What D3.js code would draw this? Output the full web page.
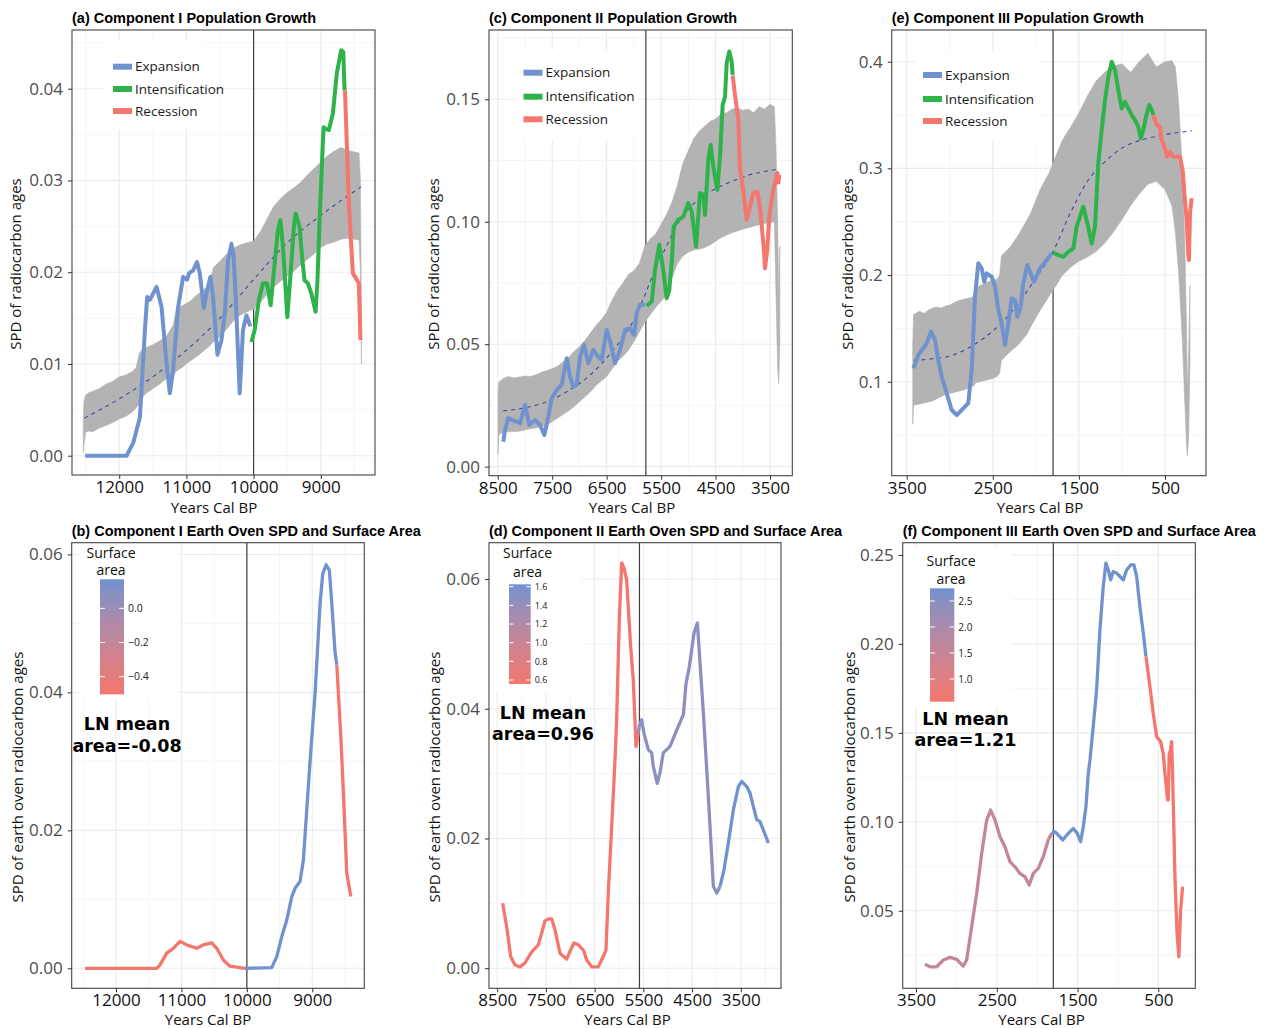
<!DOCTYPE html>
<html><head><meta charset="utf-8">
<script src="https://cdn.jsdelivr.net/npm/d3@7"></script>
<style>body{margin:0;background:#fff}</style>
</head><body>
<svg id="chart" width="1268" height="1028"></svg>
<script>
// ---------------- DATA ----------------
// Panel (a) Component I Population Growth  [year BP, SPD]
const aExpansion = [[12508,0],[12300,0],[12100,0],[11890,0],[11792,0.0014],[11692,0.0042],[11618,0.0137],[11584,0.0173],[11544,0.0170],[11444,0.0184],[11370,0.0162],[11296,0.0101],[11247,0.0068],[11198,0.0093],[11123,0.0162],[11049,0.0195],[10990,0.0192],[10960,0.0199],[10900,0.0202],[10841,0.0211],[10801,0.0199],[10741,0.0161],[10701,0.0177],[10642,0.0195],[10603,0.0173],[10538,0.0110],[10478,0.0126],[10429,0.0155],[10380,0.0213],[10330,0.0231],[10296,0.0217],[10256,0.0155],[10207,0.0068],[10158,0.0137],[10107,0.0153],[10048,0.0141]];
const aIntensification = [[10033,0.0124],[9984,0.0137],[9920,0.0170],[9860,0.0188],[9801,0.0188],[9746,0.0164],[9686,0.0210],[9640,0.0245],[9602,0.0257],[9560,0.0225],[9498,0.0151],[9438,0.0210],[9400,0.0250],[9374,0.0264],[9315,0.0249],[9270,0.0210],[9241,0.0191],[9192,0.0188],[9141,0.0177],[9077,0.0157],[9050,0.0190],[9018,0.0257],[8959,0.0358],[8920,0.0356],[8880,0.0355],[8820,0.0373],[8761,0.0417],[8696,0.0442],[8665,0.0440],[8646,0.0398]];
const aRecession = [[8640,0.0398],[8582,0.0275],[8523,0.0199],[8473,0.0193],[8434,0.0188],[8409,0.0126]];
const aTrend = [[12520,0.0041],[12000,0.0062],[11500,0.0086],[11000,0.0115],[10500,0.0150],[10000,0.0192],[9500,0.0232],[9000,0.0262],[8700,0.0278],[8400,0.0293]];
const aBand = [[12535,0.0003,0.0040],[12525,0.0012,0.0060],[12500,0.0026,0.0066],[12450,0.0027,0.0069],[12400,0.0026,0.0070],[12300,0.0030,0.0073],[12200,0.0033,0.0078],[12100,0.0036,0.0081],[12000,0.0040,0.0086],[11900,0.0043,0.0088],[11800,0.0048,0.0092],[11750,0.0052,0.0096],[11700,0.0057,0.0112],[11650,0.0064,0.0116],[11600,0.0068,0.0118],[11500,0.0073,0.0121],[11400,0.0078,0.0125],[11300,0.0084,0.0130],[11200,0.0088,0.0142],[11150,0.0092,0.0160],[11050,0.0097,0.0164],[10950,0.0103,0.0168],[10850,0.0108,0.0175],[10750,0.0114,0.0180],[10650,0.0120,0.0188],[10600,0.0124,0.0205],[10500,0.0130,0.0212],[10400,0.0138,0.0220],[10300,0.0147,0.0226],[10200,0.0153,0.0230],[10100,0.0157,0.0232],[10000,0.0160,0.0234],[9900,0.0167,0.0244],[9800,0.0176,0.0258],[9700,0.0184,0.0272],[9600,0.0190,0.0280],[9500,0.0196,0.0287],[9400,0.0201,0.0292],[9300,0.0208,0.0298],[9200,0.0214,0.0306],[9100,0.0220,0.0313],[9000,0.0227,0.0320],[8900,0.0231,0.0327],[8800,0.0233,0.0332],[8700,0.0236,0.0336],[8600,0.0237,0.0333],[8500,0.0236,0.0331],[8430,0.0235,0.0330],[8410,0.0200,0.0300],[8395,0.0100,0.0160]];
const aXTicks = [12000,11000,10000,9000];
const aYTicks = [0,0.01,0.02,0.03,0.04];

// Panel (c) Component II Population Growth
const cExpansion = [[8397,0.0102],[8366,0.0150],[8305,0.0198],[8230,0.0190],[8151,0.0184],[8090,0.0177],[7999,0.0252],[7920,0.0170],[7815,0.0191],[7723,0.0170],[7644,0.0129],[7571,0.0204],[7508,0.0279],[7417,0.0313],[7325,0.0334],[7233,0.0443],[7172,0.0368],[7112,0.0327],[7049,0.0334],[6989,0.0449],[6915,0.0497],[6836,0.0422],[6745,0.0477],[6682,0.0456],[6591,0.0436],[6499,0.0558],[6426,0.0504],[6346,0.0422],[6254,0.0477],[6163,0.0558],[6071,0.0565],[5997,0.0538],[5948,0.0627],[5887,0.0661],[5795,0.0661]];
const cIntensification = [[5764,0.0656],[5672,0.0674],[5612,0.0803],[5533,0.0906],[5470,0.0817],[5397,0.0688],[5350,0.0720],[5300,0.0850],[5270,0.0980],[5184,0.1008],[5092,0.1021],[5000,0.1076],[4938,0.1042],[4859,0.0899],[4785,0.1117],[4725,0.1110],[4694,0.1028],[4633,0.1253],[4589,0.1314],[4541,0.1225],[4467,0.1130],[4418,0.1266],[4369,0.1478],[4326,0.1511],[4296,0.1648],[4248,0.1695],[4204,0.1654],[4186,0.1600]];
const cRecession = [[4186,0.1597],[4143,0.1518],[4082,0.1416],[4051,0.1212],[4002,0.1144],[3929,0.1008],[3868,0.1062],[3807,0.1117],[3734,0.1123],[3685,0.1062],[3612,0.0885],[3593,0.0810],[3551,0.0885],[3515,0.1021],[3452,0.1117],[3410,0.1158],[3366,0.1199],[3345,0.1160],[3330,0.1192]];
const cTrend = [[8400,0.0228],[8000,0.0240],[7600,0.0265],[7200,0.0310],[6800,0.0375],[6400,0.0470],[6000,0.0600],[5800,0.0700],[5600,0.0810],[5400,0.0900],[5200,0.0990],[5000,0.1050],[4800,0.1095],[4500,0.1135],[4200,0.1165],[3900,0.1190],[3600,0.1205],[3330,0.1216]];
const cBand = [[8495,0.0050,0.0300],[8480,0.0130,0.0345],[8400,0.0140,0.0360],[8300,0.0142,0.0368],[8200,0.0143,0.0362],[8100,0.0145,0.0366],[8000,0.0150,0.0370],[7900,0.0155,0.0368],[7800,0.0158,0.0375],[7700,0.0163,0.0385],[7600,0.0170,0.0392],[7500,0.0183,0.0400],[7400,0.0198,0.0410],[7300,0.0213,0.0428],[7200,0.0228,0.0445],[7100,0.0245,0.0470],[7000,0.0265,0.0490],[6900,0.0285,0.0515],[6800,0.0305,0.0545],[6700,0.0330,0.0575],[6600,0.0350,0.0600],[6500,0.0368,0.0630],[6400,0.0400,0.0680],[6300,0.0430,0.0720],[6200,0.0450,0.0750],[6100,0.0475,0.0785],[6000,0.0510,0.0800],[5900,0.0550,0.0830],[5800,0.0590,0.0900],[5700,0.0620,0.0930],[5600,0.0650,0.0950],[5500,0.0675,0.0990],[5400,0.0700,0.1030],[5300,0.0770,0.1080],[5200,0.0830,0.1150],[5100,0.0860,0.1240],[5000,0.0875,0.1290],[4900,0.0885,0.1340],[4800,0.0888,0.1370],[4700,0.0895,0.1390],[4600,0.0905,0.1410],[4500,0.0920,0.1420],[4400,0.0935,0.1440],[4300,0.0945,0.1445],[4200,0.0955,0.1460],[4100,0.0962,0.1465],[4000,0.0970,0.1455],[3900,0.0975,0.1460],[3800,0.0982,0.1445],[3700,0.0988,0.1470],[3600,0.0993,0.1460],[3500,0.0996,0.1480],[3420,0.1000,0.1470],[3390,0.0700,0.1300],[3360,0.0400,0.1000],[3340,0.0340,0.0700],[3320,0.0500,0.0900]];
const cXTicks = [8500,7500,6500,5500,4500,3500];
const cYTicks = [0,0.05,0.10,0.15];

// Panel (e) Component III Population Growth
const eExpansion = [[3423,0.1126],[3392,0.1187],[3365,0.1250],[3307,0.1313],[3268,0.1360],[3218,0.1469],[3171,0.1390],[3133,0.1203],[3093,0.1047],[3035,0.0891],[2977,0.0735],[2919,0.0688],[2843,0.0751],[2785,0.0798],[2745,0.1110],[2707,0.1797],[2668,0.2110],[2629,0.2063],[2599,0.1937],[2571,0.2016],[2513,0.1984],[2474,0.1890],[2436,0.1672],[2397,0.1547],[2358,0.1344],[2320,0.1547],[2281,0.1782],[2242,0.1766],[2215,0.1609],[2176,0.1703],[2146,0.1922],[2099,0.2094],[2068,0.2031],[2021,0.1937],[1952,0.2063],[1874,0.2141],[1816,0.2203]];
const eIntensification = [[1797,0.2209],[1739,0.2187],[1681,0.2171],[1623,0.2218],[1565,0.2250],[1526,0.2453],[1449,0.2640],[1402,0.2485],[1351,0.2297],[1313,0.2453],[1275,0.3047],[1235,0.3359],[1197,0.3640],[1158,0.3858],[1119,0.4000],[1081,0.3922],[1042,0.3734],[1003,0.3562],[965,0.3624],[925,0.3560],[887,0.3500],[848,0.3453],[810,0.3390],[782,0.3281],[752,0.3359],[712,0.3516],[682,0.3593],[654,0.3546],[636,0.3500]];
const eRecession = [[636,0.3500],[596,0.3406],[558,0.3390],[539,0.3265],[500,0.3187],[474,0.3109],[442,0.3156],[404,0.3109],[327,0.3109],[295,0.2984],[268,0.2703],[249,0.2515],[230,0.2203],[222,0.2141],[210,0.2578],[190,0.2719]];
const eTrend = [[3420,0.1200],[3200,0.1215],[3000,0.1240],[2800,0.1310],[2600,0.1410],[2400,0.1550],[2200,0.1740],[2000,0.1970],[1800,0.2220],[1600,0.2580],[1400,0.2880],[1200,0.3060],[1000,0.3190],[800,0.3260],[600,0.3300],[400,0.3330],[190,0.3350]];
const eBand = [[3430,0.0600,0.1350],[3420,0.0780,0.1630],[3350,0.0790,0.1660],[3300,0.0800,0.1640],[3250,0.0810,0.1670],[3200,0.0820,0.1690],[3150,0.0840,0.1700],[3100,0.0860,0.1690],[3050,0.0880,0.1710],[3000,0.0890,0.1720],[2950,0.0900,0.1740],[2900,0.0910,0.1760],[2850,0.0920,0.1770],[2800,0.0935,0.1780],[2750,0.0950,0.1790],[2720,0.0960,0.1800],[2700,0.0990,0.1880],[2650,0.1000,0.1900],[2600,0.1010,0.1920],[2550,0.1020,0.1940],[2500,0.1030,0.1950],[2450,0.1050,0.1960],[2420,0.1080,0.2000],[2400,0.1200,0.2180],[2300,0.1280,0.2260],[2200,0.1350,0.2380],[2100,0.1450,0.2520],[2050,0.1530,0.2600],[2000,0.1600,0.2700],[1950,0.1670,0.2800],[1900,0.1730,0.2880],[1850,0.1800,0.2950],[1800,0.1860,0.3050],[1750,0.1920,0.3150],[1700,0.1990,0.3250],[1650,0.2030,0.3320],[1600,0.2070,0.3380],[1500,0.2130,0.3520],[1400,0.2170,0.3680],[1300,0.2220,0.3820],[1200,0.2300,0.3900],[1100,0.2400,0.3960],[1000,0.2520,0.3980],[900,0.2650,0.3900],[800,0.2760,0.4000],[700,0.2850,0.4080],[600,0.2880,0.3950],[500,0.2800,0.4000],[420,0.2650,0.4010],[380,0.2400,0.3950],[340,0.2000,0.3600],[300,0.1400,0.3000],[270,0.0800,0.2300],[250,0.0400,0.1500],[240,0.0300,0.0900],[225,0.0500,0.1300],[210,0.1200,0.1900]];
const eXTicks = [3500,2500,1500,500];
const eYTicks = [0.1,0.2,0.3,0.4];

// Panel (b) Component I Earth Oven SPD, coloured by surface area
const bEarly = [[12474,0],[11800,0],[11378,0],[11327,0.0005],[11225,0.0022],[11124,0.0029],[11021,0.0039],[10919,0.0034],[10766,0.0029],[10665,0.0034],[10537,0.0037],[10460,0.0029],[10359,0.0012],[10257,0.0003],[10028,0]];
const bMiddle = [[10028,0],[9619,0.0001],[9543,0.0017],[9466,0.0046],[9390,0.0070],[9313,0.0104],[9263,0.0116],[9187,0.0126],[9136,0.0157],[9085,0.0229],[9034,0.0300],[8957,0.0399],[8881,0.0529],[8840,0.0572],[8789,0.0585],[8739,0.0577],[8702,0.0529],[8651,0.0457],[8625,0.0440]];
const bLate = [[8625,0.0440],[8564,0.0336],[8524,0.0254],[8473,0.0138],[8411,0.0104]];
const bArea = [-0.50, 0.17, -0.50];
const bLegendTicks = [0.0,-0.2,-0.4];
const bYTicks = [0,0.02,0.04,0.06];

// Panel (d) Component II Earth Oven SPD
const dEarly = [[8387,0.0100],[8305,0.0064],[8223,0.0018],[8135,0.0005],[8032,0.0002],[7930,0.0008],[7827,0.0021],[7759,0.0028],[7656,0.0036],[7587,0.0054],[7519,0.0073],[7450,0.0076],[7381,0.0076],[7313,0.0059],[7211,0.0023],[7074,0.0014],[7006,0.0026],[6924,0.0039],[6835,0.0036],[6732,0.0028],[6664,0.0013],[6561,0.0002],[6425,0.0002],[6323,0.0018],[6267,0.0028],[6220,0.0116],[6150,0.0218],[6082,0.0321],[6048,0.0383],[5994,0.0537],[5945,0.0625],[5898,0.0617],[5843,0.0599],[5761,0.0496],[5707,0.0445],[5651,0.0342],[5604,0.0362]];
const dMiddle = [[5604,0.0362],[5584,0.0373],[5535,0.0383],[5487,0.0362],[5399,0.0337],[5329,0.0332],[5296,0.0311],[5214,0.0285],[5159,0.0301],[5091,0.0332],[4953,0.0342],[4816,0.0367],[4679,0.0391],[4624,0.0439],[4556,0.0465],[4460,0.0517],[4392,0.0532],[4336,0.0470],[4268,0.0393],[4199,0.0306],[4131,0.0218],[4063,0.0126],[3994,0.0116],[3926,0.0126]];
const dLate = [[3926,0.0126],[3844,0.0152],[3756,0.0193],[3653,0.0244],[3550,0.0280],[3481,0.0288],[3379,0.0280],[3311,0.0270],[3242,0.0249],[3174,0.0229],[3105,0.0226],[3037,0.0213],[2934,0.0193]];
const dArea = [0.56, 1.47, 1.63];
const dLegendTicks = [0.6,0.8,1.0,1.2,1.4,1.6];
const dYTicks = [0,0.02,0.04,0.06];

// Panel (f) Component III Earth Oven SPD
const fEarly = [[3389,0.0200],[3327,0.0185],[3244,0.0185],[3162,0.0223],[3079,0.0238],[2996,0.0227],[2915,0.0189],[2873,0.0223],[2811,0.0410],[2749,0.0598],[2687,0.0823],[2625,0.1010],[2576,0.1066],[2522,0.1010],[2460,0.0916],[2399,0.0860],[2337,0.0776],[2275,0.0747],[2213,0.0710],[2151,0.0691],[2098,0.0645],[2048,0.0710],[1986,0.0738],[1925,0.0804],[1863,0.0898],[1821,0.0935]];
const fMiddle = [[1821,0.0935],[1780,0.0944],[1739,0.0926],[1684,0.0898],[1615,0.0935],[1553,0.0963],[1504,0.0935],[1462,0.0888],[1429,0.0972],[1396,0.1085],[1367,0.1273],[1346,0.1348],[1306,0.1535],[1264,0.1741],[1223,0.2079],[1182,0.2322],[1149,0.2454],[1120,0.2416],[1090,0.2360],[1058,0.2407],[1016,0.2398],[975,0.2379],[934,0.2360],[892,0.2416],[843,0.2444],[802,0.2444],[768,0.2379],[728,0.2210],[686,0.2060],[653,0.1929]];
const fLate = [[653,0.1929],[604,0.1760],[563,0.1610],[521,0.1479],[472,0.1451],[439,0.1385],[418,0.1273],[385,0.1123],[377,0.1123],[365,0.1385],[350,0.1400],[335,0.1451],[325,0.1300],[315,0.1104],[294,0.0691],[266,0.0354],[245,0.0241],[224,0.0504],[199,0.0635]];
const fArea = [1.58, 2.74, 0.56];
const fLegendTicks = [1.0,1.5,2.0,2.5];
const fYTicks = [0.05,0.10,0.15,0.20,0.25];

const phaseNames = ['Expansion','Intensification','Recession'];

// ---------------- STYLE ----------------
const BLUE = '#7092CE', GREEN = '#2DB34A', RED = '#F4766D';
const BAND = '#B3B3B3', TREND = '#3A4A9F';
const FONT = "'Open Sans', 'Noto Sans', sans-serif";
const svg = d3.select('#chart');
const defs = svg.append('defs');

function gridVals(major, step, lo, hi) {
  const out = [];
  for (let v = Math.ceil(lo / step) * step; v <= hi + 1e-9; v += step) {
    const vv = +v.toFixed(6);
    if (!major.some(m => Math.abs(m - vv) < step * 0.01)) out.push(vv);
  }
  return out;
}

function drawPanel(p) {
  const g = svg.append('g');
  const x = d3.scaleLinear().domain(p.xDomain).range([p.left, p.right]);
  const y = d3.scaleLinear().domain(p.yDomain).range([p.bottom, p.top]);
  const W = p.right - p.left, H = p.bottom - p.top;
  g.append('rect').attr('x', p.left).attr('y', p.top).attr('width', W).attr('height', H).attr('fill', '#fff');

  const xlo = Math.min(...p.xDomain), xhi = Math.max(...p.xDomain);
  const ylo = Math.min(...p.yDomain), yhi = Math.max(...p.yDomain);
  const xMinor = gridVals(p.xTicks, p.xStep / 2, xlo, xhi);
  const yMinor = gridVals(p.yTicks, p.yStep / 2, ylo, yhi);
  const grid = g.append('g');
  grid.selectAll('.xm').data(xMinor).join('line').attr('x1', d => x(d)).attr('x2', d => x(d)).attr('y1', p.top).attr('y2', p.bottom).attr('stroke', '#efefef').attr('stroke-width', 0.6);
  grid.selectAll('.ym').data(yMinor).join('line').attr('y1', d => y(d)).attr('y2', d => y(d)).attr('x1', p.left).attr('x2', p.right).attr('stroke', '#efefef').attr('stroke-width', 0.6);
  grid.selectAll('.xM').data(p.xTicks).join('line').attr('x1', d => x(d)).attr('x2', d => x(d)).attr('y1', p.top).attr('y2', p.bottom).attr('stroke', '#ebebeb').attr('stroke-width', 1.1);
  grid.selectAll('.yM').data(p.yTicks).join('line').attr('y1', d => y(d)).attr('y2', d => y(d)).attr('x1', p.left).attr('x2', p.right).attr('stroke', '#ebebeb').attr('stroke-width', 1.1);

  // legend background
  if (p.legendBox) g.append('rect').attr('x', p.legendBox[0]).attr('y', p.legendBox[1]).attr('width', p.legendBox[2]).attr('height', p.legendBox[3]).attr('fill', '#fff');

  const clipId = 'clip-' + p.id;
  defs.append('clipPath').attr('id', clipId).append('rect').attr('x', p.left).attr('y', p.top).attr('width', W).attr('height', H);
  const data = g.append('g').attr('clip-path', `url(#${clipId})`);

  // reference line (drawn below band)
  data.append('line').attr('x1', x(p.vline)).attr('x2', x(p.vline)).attr('y1', p.top).attr('y2', p.bottom).attr('stroke', '#3d3d3d').attr('stroke-width', 1.2);

  if (p.band) {
    data.append('path').datum(p.band)
      .attr('d', d3.area().x(d => x(d[0])).y0(d => y(d[1])).y1(d => y(d[2])))
      .attr('fill', BAND).attr('stroke', BAND).attr('stroke-width', 0.6);
  }
  if (p.trend) {
    data.append('path').datum(p.trend)
      .attr('d', d3.line().curve(d3.curveMonotoneX).x(d => x(d[0])).y(d => y(d[1])))
      .attr('fill', 'none').attr('stroke', TREND).attr('stroke-width', 1.1).attr('stroke-dasharray', '4,4');
  }
  const line = d3.line().x(d => x(d[0])).y(d => y(d[1]));
  p.series.forEach(s => {
    data.append('path').datum(s.data).attr('d', line)
      .attr('fill', 'none').attr('stroke', s.color).attr('stroke-width', p.lw)
      .attr('stroke-linejoin', 'round').attr('stroke-linecap', 'butt');
  });

  // border
  g.append('rect').attr('x', p.left).attr('y', p.top).attr('width', W).attr('height', H).attr('fill', 'none').attr('stroke', '#444').attr('stroke-width', 1.1);

  // axes
  const yAx = g.append('g').attr('transform', `translate(${p.left},0)`)
    .call(d3.axisLeft(y).tickValues(p.yTicks).tickFormat(d3.format(p.yFmt)).tickSize(4).tickPadding(5));
  yAx.select('.domain').remove();
  yAx.selectAll('line').attr('stroke', '#333');
  yAx.selectAll('text').attr('font-family', FONT).attr('font-size', 17).attr('fill', '#4d4d4d');
  const xAx = g.append('g').attr('transform', `translate(0,${p.bottom})`)
    .call(d3.axisBottom(x).tickValues(p.xTicks).tickFormat(d3.format('d')).tickSize(4).tickPadding(2));
  xAx.select('.domain').remove();
  xAx.selectAll('line').attr('stroke', '#333');
  xAx.selectAll('text').attr('font-family', FONT).attr('font-size', 17).attr('fill', '#111');

  // titles
  g.append('text').attr('x', p.left).attr('y', p.titleY).text(p.title)
    .attr('font-family', "'Liberation Sans', Arial, sans-serif").attr('font-weight', 'bold').attr('font-size', 14.5).attr('fill', '#000');
  g.append('text').attr('x', p.xTitleX).attr('y', p.xTitleY).attr('text-anchor', 'middle').text('Years Cal BP')
    .attr('font-family', FONT).attr('font-size', 15).attr('fill', '#111');
  g.append('text').attr('transform', `translate(${p.yTitleX},${p.yTitleY}) rotate(-90)`).attr('text-anchor', 'middle').text(p.yTitle)
    .attr('font-family', FONT).attr('font-size', 15).attr('fill', '#111');

  if (p.phaseLegend) {
    const L = p.phaseLegend;
    const cols = [BLUE, GREEN, RED];
    phaseNames.forEach((nm, i) => {
      g.append('rect').attr('x', L.x).attr('y', L.ys[i] - 3).attr('width', 19).attr('height', 6).attr('fill', cols[i]);
      g.append('text').attr('x', L.x + 22).attr('y', L.ys[i] + 4.6).text(nm)
        .attr('font-family', FONT).attr('font-size', 13.5).attr('fill', '#1a1a1a');
    });
  }
  if (p.gradLegend) {
    const L = p.gradLegend;
    const gid = 'grad-' + p.id;
    const lg = defs.append('linearGradient').attr('id', gid).attr('x1', 0).attr('y1', 1).attr('x2', 0).attr('y2', 0);
    d3.range(0, 1.0001, 0.1).forEach(t => {
      lg.append('stop').attr('offset', t).attr('stop-color', p.colorScale(L.min + t * (L.max - L.min)));
    });
    g.append('rect').attr('x', L.x).attr('y', L.y).attr('width', L.w).attr('height', L.h).attr('fill', `url(#${gid})`);
    const ls = d3.scaleLinear().domain([L.min, L.max]).range([L.y + L.h, L.y]);
    L.ticks.forEach(t => {
      g.append('line').attr('x1', L.x).attr('x2', L.x + L.w * 0.2).attr('y1', ls(t)).attr('y2', ls(t)).attr('stroke', '#fff').attr('stroke-width', 1);
      g.append('line').attr('x1', L.x + L.w * 0.8).attr('x2', L.x + L.w).attr('y1', ls(t)).attr('y2', ls(t)).attr('stroke', '#fff').attr('stroke-width', 1);
      g.append('text').attr('x', L.x + L.w + 4).attr('y', ls(t) + L.fs * 0.36).text(d3.format('.1f')(t))
        .attr('font-family', FONT).attr('font-size', L.fs).attr('fill', '#222');
    });
    g.append('text').attr('x', L.tx).attr('y', L.ty1).attr('text-anchor', 'middle').text('Surface')
      .attr('font-family', FONT).attr('font-size', 14).attr('fill', '#111');
    g.append('text').attr('x', L.tx).attr('y', L.ty2).attr('text-anchor', 'middle').text('area')
      .attr('font-family', FONT).attr('font-size', 14).attr('fill', '#111');
    g.append('text').attr('x', L.nx).attr('y', L.ny1).attr('text-anchor', 'middle').text('LN mean')
      .attr('font-family', "'DejaVu Sans', sans-serif").attr('font-weight', 'bold').attr('font-size', 17.5).attr('fill', '#000');
    g.append('text').attr('x', L.nx).attr('y', L.ny2).attr('text-anchor', 'middle').text(L.lnText)
      .attr('font-family', "'DejaVu Sans', sans-serif").attr('font-weight', 'bold').attr('font-size', 17.5).attr('fill', '#000');
  }
}

function gradScale(min, max) {
  return d3.scaleLinear().domain([min, max]).range(['#F4766D', '#7092CE']).interpolate(d3.interpolateLab).clamp(true);
}

const bScale = gradScale(-0.503, 0.17);
const dScale = gradScale(0.557, 1.626);
const fScale = gradScale(0.563, 2.744);

const panels = [
  {id: 'a', left: 72, right: 375, top: 30, bottom: 475, xDomain: [12703, 8193], yDomain: [-0.0021, 0.0464],
   xTicks: aXTicks, xStep: 1000, yTicks: aYTicks, yStep: 0.01, yFmt: '.2f',
   title: '(a) Component I Population Growth', titleY: 23, xTitleX: 214, xTitleY: 513, yTitleX: 21, yTitleY: 264,
   yTitle: 'SPD of radiocarbon ages', vline: 10000, band: aBand, trend: aTrend, lw: 4,
   series: [{data: aExpansion, color: BLUE}, {data: aIntensification, color: GREEN}, {data: aRecession, color: RED}],
   legendBox: [104, 40, 99, 90], phaseLegend: {x: 113, ys: [66.7, 89, 111]}},
  {id: 'c', left: 489, right: 792.3, top: 30, bottom: 475.7, xDomain: [8660, 3091], yDomain: [-0.0037, 0.1783],
   xTicks: cXTicks, xStep: 1000, yTicks: cYTicks, yStep: 0.05, yFmt: '.2f',
   title: '(c) Component II Population Growth', titleY: 23, xTitleX: 632, xTitleY: 513, yTitleX: 439, yTitleY: 264,
   yTitle: 'SPD of radiocarbon ages', vline: 5780, band: cBand, trend: cTrend, lw: 4,
   series: [{data: cExpansion, color: BLUE}, {data: cIntensification, color: GREEN}, {data: cRecession, color: RED}],
   legendBox: [516, 50, 122, 90], phaseLegend: {x: 523.5, ys: [72.7, 96.7, 119.3]}},
  {id: 'e', left: 891.7, right: 1206, top: 30, bottom: 475.7, xDomain: [3674, 24], yDomain: [0.0119, 0.4297],
   xTicks: eXTicks, xStep: 1000, yTicks: eYTicks, yStep: 0.1, yFmt: '.1f',
   title: '(e) Component III Population Growth', titleY: 23, xTitleX: 1040, xTitleY: 513, yTitleX: 853, yTitleY: 264,
   yTitle: 'SPD of radiocarbon ages', vline: 1800, band: eBand, trend: eTrend, lw: 4,
   series: [{data: eExpansion, color: BLUE}, {data: eIntensification, color: GREEN}, {data: eRecession, color: RED}],
   legendBox: [915, 52, 125, 90], phaseLegend: {x: 923, ys: [75, 99, 121]}},
  {id: 'b', left: 71.7, right: 364.3, top: 542.7, bottom: 988.3, xDomain: [12677, 8205], yDomain: [-0.0029, 0.0617],
   xTicks: aXTicks, xStep: 1000, yTicks: bYTicks, yStep: 0.02, yFmt: '.2f',
   title: '(b) Component I Earth Oven SPD and Surface Area', titleY: 536, xTitleX: 208, xTitleY: 1025, yTitleX: 23, yTitleY: 777,
   yTitle: 'SPD of earth oven radiocarbon ages', vline: 10000, lw: 3.3, colorScale: bScale,
   series: [{data: bEarly, color: bScale(bArea[0])}, {data: bMiddle, color: bScale(bArea[1])}, {data: bLate, color: bScale(bArea[2])}],
   legendBox: [80, 546, 98, 152],
   gradLegend: {x: 100, y: 579.3, w: 24, h: 115, min: -0.503, max: 0.17, ticks: bLegendTicks, fs: 10.5,
     tx: 111, ty1: 558, ty2: 575, nx: 127, ny1: 730, ny2: 752, lnText: 'area=-0.08'}},
  {id: 'd', left: 489, right: 781, top: 542.7, bottom: 988.3, xDomain: [8668, 2675], yDomain: [-0.0031, 0.0656],
   xTicks: cXTicks, xStep: 1000, yTicks: dYTicks, yStep: 0.02, yFmt: '.2f',
   title: '(d) Component II Earth Oven SPD and Surface Area', titleY: 536, xTitleX: 627.5, xTitleY: 1025, yTitleX: 440, yTitleY: 777,
   yTitle: 'SPD of earth oven radiocarbon ages', vline: 5580, lw: 3.3, colorScale: dScale,
   series: [{data: dEarly, color: dScale(dArea[0])}, {data: dMiddle, color: dScale(dArea[1])}, {data: dLate, color: dScale(dArea[2])}],
   legendBox: [489.5, 546, 92, 146],
   gradLegend: {x: 509, y: 584.3, w: 21.7, h: 99.7, min: 0.557, max: 1.626, ticks: dLegendTicks, fs: 9,
     tx: 527.5, ty1: 558.3, ty2: 576.7, nx: 543, ny1: 719, ny2: 740, lnText: 'area=0.96'}},
  {id: 'f', left: 902.7, right: 1195.3, top: 542.7, bottom: 988.3, xDomain: [3665, 42], yDomain: [0.0064, 0.2569],
   xTicks: eXTicks, xStep: 1000, yTicks: fYTicks, yStep: 0.05, yFmt: '.2f',
   title: '(f) Component III Earth Oven SPD and Surface Area', titleY: 536, xTitleX: 1041.5, xTitleY: 1025, yTitleX: 855, yTitleY: 777,
   yTitle: 'SPD of earth oven radiocarbon ages', vline: 1800, lw: 3.3, colorScale: fScale,
   series: [{data: fEarly, color: fScale(fArea[0])}, {data: fMiddle, color: fScale(fArea[1])}, {data: fLate, color: fScale(fArea[2])}],
   legendBox: [904, 546, 108, 160],
   gradLegend: {x: 930, y: 588.3, w: 24.3, h: 113.4, min: 0.563, max: 2.744, ticks: fLegendTicks, fs: 10,
     tx: 951, ty1: 565.7, ty2: 584, nx: 965.5, ny1: 725, ny2: 746, lnText: 'area=1.21'}}
];

panels.forEach(drawPanel);
</script>
</body></html>
